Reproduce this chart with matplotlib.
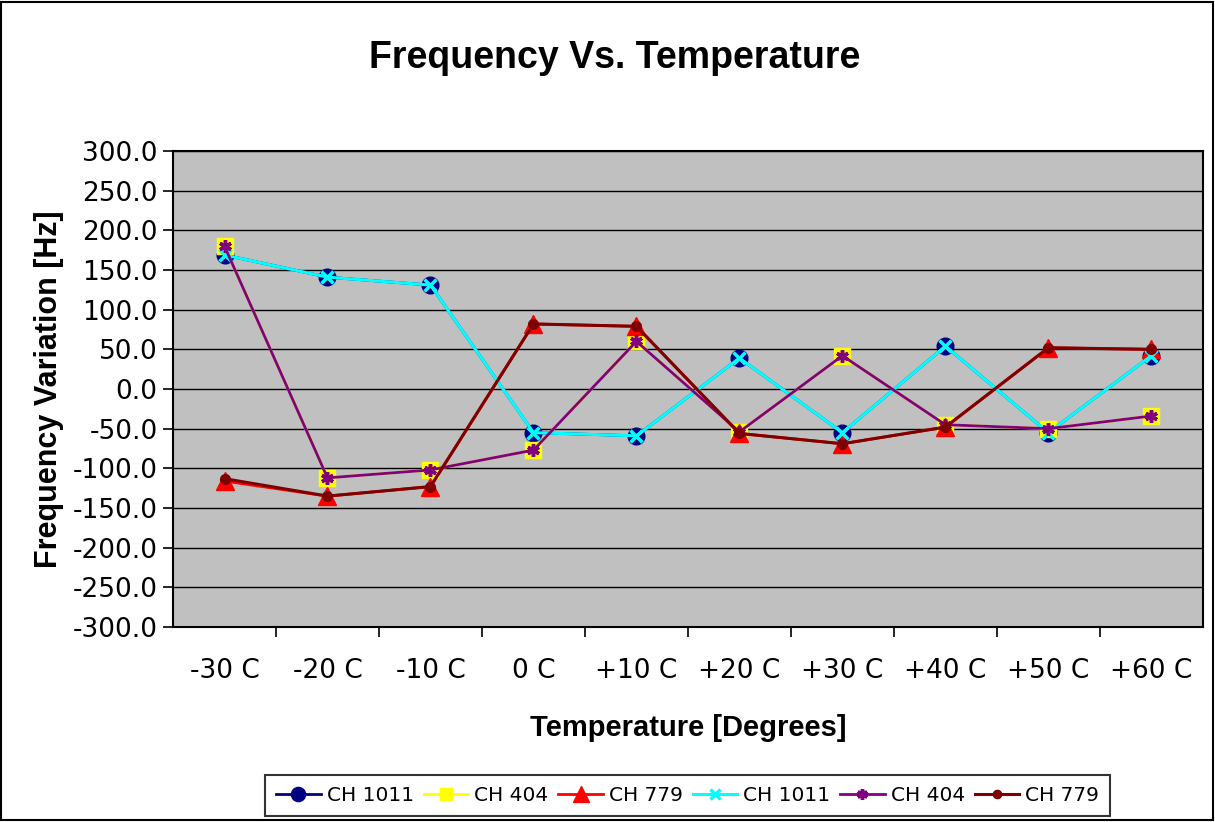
import matplotlib
matplotlib.use("Agg")
from matplotlib import pyplot as plt
from matplotlib.patches import Rectangle

# chart data
categories = ['-30 C', '-20 C', '-10 C', '0 C', '+10 C', '+20 C', '+30 C', '+40 C', '+50 C', '+60 C']
ch1011_a = [169, 141, 131, -55, -59, 39, -55, 54, -55, 42]
ch404_a = [180, -112, -102, -77, 60, -54, 42, -45, -50, -34]
ch779_a = [-116, -135, -123, 82, 79, -56, -69, -48, 52, 50]
ch1011_b = [169, 141, 131, -55, -59, 39, -55, 54, -55, 42]
ch404_b = [180, -112, -102, -77, 60, -54, 42, -45, -50, -34]
ch779_b = [-113, -135, -123, 82, 79, -56, -69, -48, 52, 50]
y_ticks = [-300, -250, -200, -150, -100, -50, 0, 50, 100, 150, 200, 250, 300]

narrow = ['Liberation Sans Narrow', 'DejaVu Sans Condensed', 'DejaVu Sans']
bold = ['Liberation Sans', 'Arial', 'DejaVu Sans']


def main():
    fig = plt.figure(figsize=(12.15, 8.22), dpi=100)
    fig.patch.set_facecolor('white')
    ax = fig.add_axes([0.1424, 0.2372, 0.8476, 0.5791])
    ax.set_facecolor('#C0C0C0')

    x = list(range(len(categories)))

    ax.plot(x, ch1011_a, color='#000080', lw=2, marker='o', ms=12,
            mfc='#000080', mec='#000080', label='CH 1011')
    ax.plot(x, ch404_a, color='#FFFF00', lw=2, marker='s', ms=11,
            mfc='#FFFF00', mec='#FFFF00', label='CH 404')
    ax.plot(x, ch779_a, color='#FF0000', lw=2, marker='^', ms=13,
            mfc='#FF0000', mec='#FF0000', label='CH 779')
    ax.plot(x, ch1011_b, color='#00FFFF', lw=2.2, marker='x', ms=9, mew=2.5,
            label='CH 1011')
    ax.plot(x, ch404_b, color='#800080', lw=2, marker=(6, 2, 0), ms=9, mew=2.5,
            label='CH 404')
    ax.plot(x, ch779_b, color='#800000', lw=2.2, marker='o', ms=7,
            mfc='#800000', mec='#800000', label='CH 779')

    ax.set_xlim(-0.5, len(categories) - 0.5)
    ax.set_ylim(-300, 300)
    ax.set_yticks(y_ticks)
    ax.set_yticklabels(['%.1f' % v for v in y_ticks], family=narrow, fontsize=19)
    ax.yaxis.grid(True, color='black', lw=1)
    ax.set_axisbelow(True)

    # category ticks sit between the categories
    ax.set_xticks([i + 0.5 for i in range(len(categories) - 1)])
    ax.set_xticklabels([])
    ax.set_xticks(x, minor=True)
    ax.set_xticklabels(categories, minor=True, family=narrow, fontsize=19)
    ax.tick_params(axis='x', which='minor', length=0, pad=22)
    ax.tick_params(axis='x', which='major', length=7, width=1.2, direction='out')
    ax.tick_params(axis='y', length=7, width=1.2, direction='out', pad=4)

    for s in ax.spines.values():
        s.set_linewidth(1.5)
        s.set_color('black')

    ax.set_ylabel('Frequency Variation [Hz]', family=bold, fontsize=22,
                  fontweight='bold', labelpad=6)
    ax.set_xlabel('Temperature [Degrees]', family=bold, fontsize=21,
                  fontweight='bold', labelpad=22)
    fig.text(0.506, 0.93, 'Frequency Vs. Temperature', family=bold, fontsize=27,
             fontweight='bold', ha='center', va='center')

    leg = fig.legend(loc='center', bbox_to_anchor=(0.566, 0.032), ncol=6,
                     prop={'family': narrow, 'size': 14.5}, frameon=True,
                     fancybox=False, handlelength=2.2, handletextpad=0.3,
                     columnspacing=0.5, borderpad=0.55, markerscale=0.85)
    leg.get_frame().set_edgecolor('black')
    leg.get_frame().set_linewidth(1.5)

    fig.patches.append(Rectangle((0.001, 0.002), 0.997, 0.996, transform=fig.transFigure,
                                 fill=False, edgecolor='black', lw=1.5))

    plt.savefig('out.png', dpi=100, facecolor='white')


if __name__ == "__main__":
    main()
